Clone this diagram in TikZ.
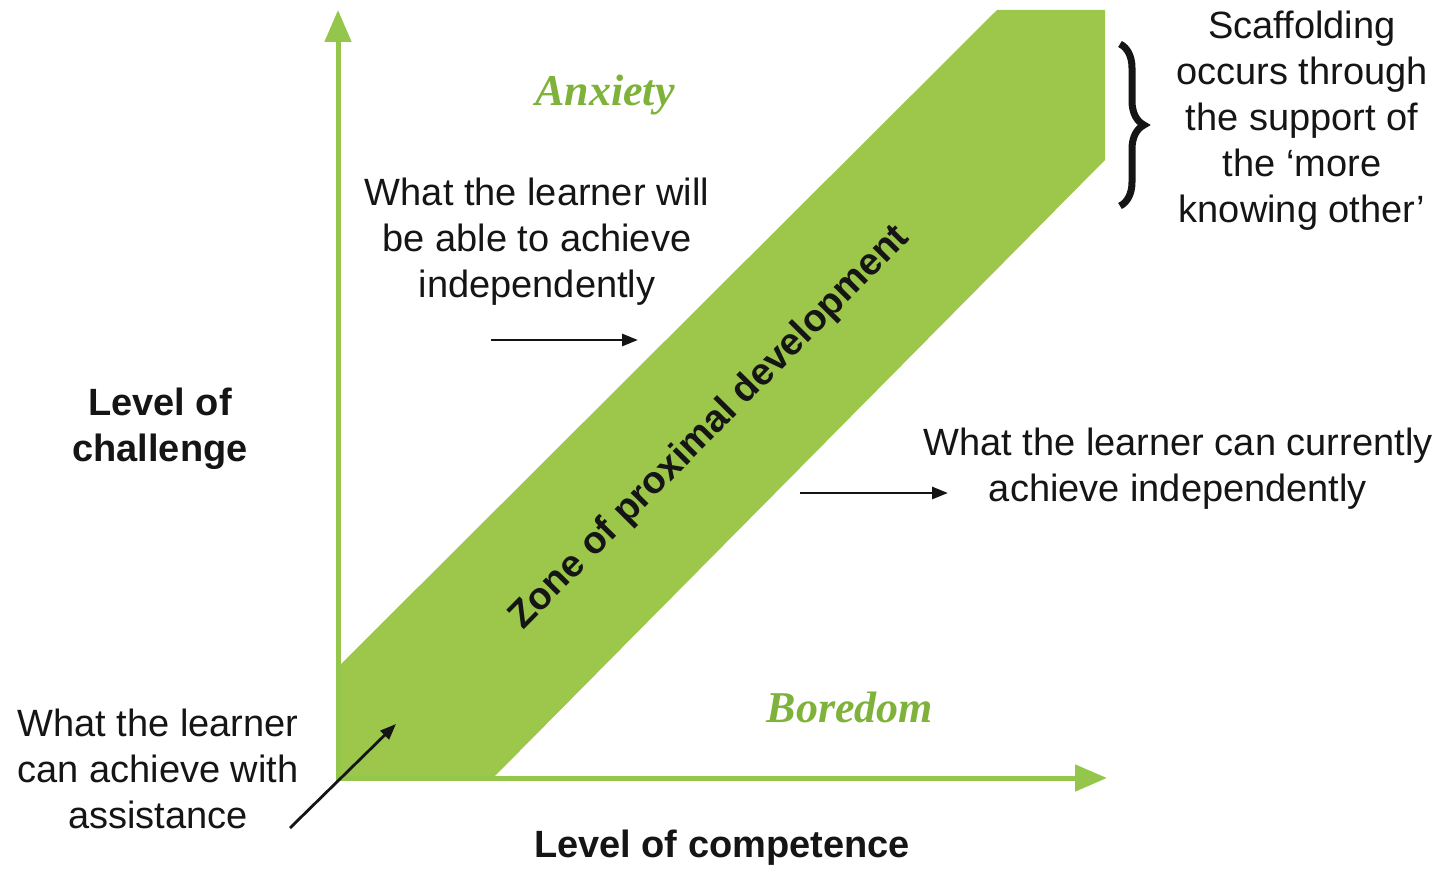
\documentclass[tikz,border=0pt]{standalone}
\usepackage{fontspec}
\setmainfont{Liberation Sans}
\newfontfamily\moodfont{Liberation Serif}
\usetikzlibrary{arrows.meta,decorations.pathreplacing}
\definecolor{bandgreen}{HTML}{9CC74B}
\definecolor{axisgreen}{HTML}{93C64A}
\definecolor{moodgreen}{HTML}{7FB23A}
\definecolor{ink}{HTML}{151515}
\tikzset{
  txt/.style={text=ink, align=center, inner sep=0pt, font=\fontsize{38}{46}\selectfont},
  boldtxt/.style={txt, font=\fontsize{38}{46}\selectfont\bfseries},
  mood/.style={text=moodgreen, inner sep=0pt, font=\fontsize{44}{46}\selectfont\moodfont\bfseries\itshape},
  axis/.style={draw=axisgreen, line width=5pt, -{Triangle[length=32pt,width=26pt]}},
  pointer/.style={draw=ink, line width=2.8pt, -{Triangle[length=16pt,width=12pt]}},
}
\begin{document}
\begin{tikzpicture}[x=1pt,y=-1pt]
\useasboundingbox (0,0) rectangle (1451,869);
% band
\fill[bandgreen] (340,665) -- (997,10) -- (1105,10) -- (1105,160) -- (493,778) -- (340,778) -- cycle;
% axes
\coordinate (origin) at (338,780);
\coordinate (ytip) at (338,10);
\coordinate (xtip) at (1107,778);
\draw[axis] (origin) -- (ytip);
\draw[axis] (336,778) -- (xtip);
% labels
\node[mood] (anx) at (605,95) {Anxiety};
\node[mood] (bor) at (850,707) {Boredom};
\node[txt] (will) at (537,242) {What the learner will\\be able to achieve\\independently};
\node[txt] (curr) at (1178,469) {What the learner can currently\\achieve independently};
\node[txt] (assist) at (158,769) {What the learner\\can achieve with\\assistance};
\node[txt] (scaf) at (1302,121) {Scaffolding\\occurs through\\the support of\\the `more\\knowing other'};
\node[boldtxt] (ych) at (160,429) {Level of\\challenge};
\node[boldtxt] (xcomp) at (722,848) {Level of competence};
\node[boldtxt, rotate=45.3] (zpd) at (710,428) {Zone of proximal development};
% pointers
\coordinate (w1) at (491,340);
\coordinate (w2) at (638,340);
\draw[pointer] (w1) -- (w2);
\coordinate (c1) at (800,493);
\coordinate (c2) at (948,493);
\draw[pointer] (c1) -- (c2);
\coordinate (a1) at (290,828);
\coordinate (a2) at (396,724);
\draw[pointer] (a1) -- (a2);
% brace
\coordinate (b1) at (1120,44);
\coordinate (b2) at (1120,206);
\draw[ink, line width=7pt, decorate, decoration={brace, amplitude=24pt}] (b1) -- (b2);
\end{tikzpicture}
\end{document}
